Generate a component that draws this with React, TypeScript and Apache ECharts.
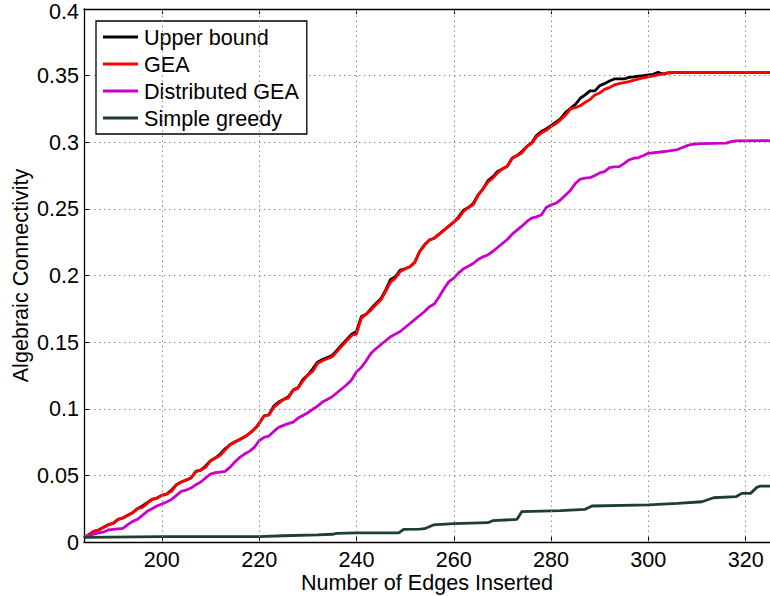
import React, { useEffect, useRef } from "react";
import * as echarts from "echarts";

const xTicks = [200, 220, 240, 260, 280, 300, 320];

const geaX = [184, 186, 187, 189, 190, 191, 192, 193, 194, 195, 196, 198, 199, 200, 201, 202, 203, 204, 206, 207, 208, 209, 210, 211, 212, 213, 214, 215, 216, 217.5, 218.5, 219.5, 221, 222, 223, 224, 225, 226, 227, 228, 229, 230, 231, 232, 233, 235, 236, 237, 238, 239, 240, 241, 242, 243, 244, 245, 246, 247, 248, 249, 250, 251, 252, 253, 254, 255, 256, 257, 258, 259, 260, 261, 262, 263, 264, 265, 266, 267, 268, 269, 270, 271, 272, 273, 274, 275, 276, 277, 278, 279, 280, 281, 282, 283, 284, 285, 286, 287, 288, 289, 290, 291, 292, 293, 294, 296, 298, 300, 302, 304, 307, 325];
const geaY = [0.003, 0.008, 0.009, 0.013, 0.014, 0.017, 0.018, 0.02, 0.022, 0.025, 0.026, 0.032, 0.033, 0.035, 0.036, 0.038, 0.043, 0.045, 0.048, 0.053, 0.054, 0.056, 0.061, 0.063, 0.065, 0.069, 0.073, 0.075, 0.077, 0.08, 0.083, 0.0865, 0.0946, 0.0953, 0.101, 0.104, 0.107, 0.108, 0.114, 0.1153, 0.121, 0.1253, 0.128, 0.134, 0.136, 0.139, 0.143, 0.147, 0.151, 0.155, 0.156, 0.168, 0.171, 0.174, 0.178, 0.1816, 0.188, 0.195, 0.198, 0.203, 0.205, 0.2066, 0.21, 0.218, 0.223, 0.2266, 0.228, 0.231, 0.234, 0.237, 0.24, 0.243, 0.248, 0.251, 0.253, 0.2604, 0.2647, 0.27, 0.273, 0.277, 0.28, 0.282, 0.288, 0.29, 0.292, 0.2967, 0.2992, 0.304, 0.307, 0.309, 0.3117, 0.314, 0.317, 0.3204, 0.325, 0.326, 0.3274, 0.33, 0.332, 0.3355, 0.337, 0.3397, 0.341, 0.343, 0.344, 0.3455, 0.3475, 0.349, 0.3505, 0.352, 0.3525, 0.3525];

const upperX = [184, 186, 187, 189, 190, 191, 192, 193, 194, 195, 196, 198, 199, 200, 201, 202, 203, 204, 206, 207, 208, 209, 210, 211, 212, 213, 214, 215, 216, 217.5, 218.5, 219.5, 221, 222, 223, 224, 225, 226, 227, 228, 229, 230, 231, 232, 233, 235, 236, 237, 238, 239, 240, 241, 242, 243, 244, 245, 246, 247, 248, 249, 250, 251, 252, 253, 254, 255, 256, 257, 258, 259, 260, 261, 262, 263, 264, 265, 266, 267, 268, 269, 270, 271, 272, 273, 274, 275, 276, 277, 278, 279, 280, 281, 282, 283, 284, 285, 286, 287, 288, 289, 290, 291, 292, 293, 294, 295, 296, 297, 298, 299, 300, 301, 302, 303, 304, 307, 325];
const upperY = [0.003, 0.008, 0.009, 0.013, 0.014, 0.017, 0.018, 0.02, 0.022, 0.025, 0.027, 0.032, 0.033, 0.035, 0.036, 0.039, 0.043, 0.045, 0.048, 0.053, 0.054, 0.057, 0.061, 0.063, 0.066, 0.07, 0.073, 0.075, 0.077, 0.08, 0.083, 0.0865, 0.0946, 0.0955, 0.102, 0.105, 0.107, 0.109, 0.114, 0.116, 0.122, 0.1253, 0.13, 0.135, 0.137, 0.14, 0.144, 0.148, 0.152, 0.156, 0.158, 0.169, 0.171, 0.175, 0.179, 0.1825, 0.189, 0.197, 0.199, 0.204, 0.205, 0.2066, 0.21, 0.218, 0.223, 0.2266, 0.228, 0.231, 0.234, 0.237, 0.24, 0.244, 0.249, 0.251, 0.254, 0.2604, 0.265, 0.271, 0.274, 0.278, 0.28, 0.282, 0.288, 0.29, 0.293, 0.2967, 0.2995, 0.305, 0.308, 0.31, 0.3125, 0.315, 0.318, 0.3225, 0.3255, 0.3285, 0.333, 0.3355, 0.3385, 0.3385, 0.3425, 0.344, 0.346, 0.3475, 0.3475, 0.3475, 0.3487, 0.349, 0.3497, 0.35, 0.3505, 0.351, 0.3525, 0.3512, 0.352, 0.3525, 0.3525];

const distX = [184, 187, 188, 189, 190, 192, 193, 194, 195, 196, 197, 198, 199, 200, 201, 202, 203, 204, 205, 206, 207, 208, 209, 210, 211, 212, 213, 214, 215, 216, 217, 218, 219, 220, 221, 222, 223, 224, 225, 226, 227, 228, 229, 230, 231, 232, 233, 234, 235, 236, 237, 238, 239, 240, 241, 242, 243, 244, 245, 246, 247, 248, 249, 250, 251, 252, 253, 254, 255, 256, 257, 258, 259, 260, 261, 262, 263, 264, 265, 266, 267, 268, 269, 270, 271, 272, 273, 274, 275, 276, 277, 278, 279, 280, 281, 282, 283, 284, 285, 286, 287, 288, 289, 290, 291, 292, 293, 294, 295, 296, 297, 298, 299, 300, 302, 304, 306, 307, 308, 309, 311, 316, 317, 318, 325];
const distY = [0.004, 0.0068, 0.0075, 0.009, 0.0095, 0.0103, 0.013, 0.0155, 0.017, 0.02, 0.023, 0.025, 0.027, 0.0285, 0.03, 0.032, 0.035, 0.038, 0.039, 0.0405, 0.043, 0.045, 0.048, 0.051, 0.052, 0.0525, 0.053, 0.056, 0.06, 0.0635, 0.066, 0.068, 0.071, 0.076, 0.0785, 0.0795, 0.083, 0.086, 0.0875, 0.0888, 0.09, 0.093, 0.095, 0.097, 0.0996, 0.102, 0.105, 0.107, 0.109, 0.112, 0.115, 0.118, 0.1216, 0.1278, 0.131, 0.136, 0.1416, 0.145, 0.148, 0.151, 0.154, 0.156, 0.158, 0.161, 0.164, 0.167, 0.17, 0.173, 0.1766, 0.1786, 0.184, 0.19, 0.1954, 0.198, 0.202, 0.205, 0.207, 0.209, 0.212, 0.214, 0.2154, 0.218, 0.221, 0.224, 0.227, 0.231, 0.234, 0.237, 0.2404, 0.243, 0.244, 0.2454, 0.251, 0.253, 0.2542, 0.257, 0.2604, 0.264, 0.269, 0.2724, 0.273, 0.2734, 0.275, 0.277, 0.278, 0.281, 0.2815, 0.2817, 0.284, 0.2867, 0.288, 0.2885, 0.29, 0.2917, 0.2925, 0.2934, 0.2945, 0.296, 0.2975, 0.2985, 0.299, 0.2994, 0.3005, 0.301, 0.3012];

const greedyX = [184, 200, 220, 225, 232, 235, 236, 240, 248.7, 249.7, 253, 254, 255.8, 260, 267, 268, 273, 274, 282, 287, 288.4, 300, 306, 311, 313.4, 318, 319.2, 321, 322.3, 323, 325];
const greedyY = [0.0035, 0.004, 0.004, 0.0047, 0.0053, 0.0058, 0.0065, 0.0068, 0.0068, 0.0095, 0.0097, 0.01, 0.0128, 0.0138, 0.0145, 0.016, 0.017, 0.0228, 0.0235, 0.0245, 0.027, 0.0278, 0.029, 0.0302, 0.0332, 0.034, 0.0365, 0.0365, 0.041, 0.042, 0.042];

const seriesNames = ["Upper bound", "GEA", "Distributed GEA", "Simple greedy"];
const seriesColors = ["#000000", "#ff0000", "#c800c8", "#1d3f2e"];

export default function App() {
  const ref = useRef<HTMLDivElement>(null);
  useEffect(() => {
    const chart = echarts.init(ref.current!, null, { renderer: "svg" });
    const font = "'Liberation Sans', Arial, Helvetica, sans-serif";
    const fs = 21.6;
    const zip = (xs: number[], ys: number[]) => xs.map((x, i) => [x, ys[i]]);
    const allData = [zip(upperX, upperY), zip(geaX, geaY), zip(distX, distY), zip(greedyX, greedyY)];
    const grid = { type: [1.5, 3.5] as any, color: "#8a8a8a", width: 1 };
    const lineSeries = seriesNames.map((name, i) => ({
      name,
      type: "line",
      data: allData[i],
      symbol: "none",
      showSymbol: false,
      clip: true,
      z: 3,
      lineStyle: { color: seriesColors[i], width: 2.8 },
      itemStyle: { color: seriesColors[i] },
    }));
    chart.setOption({
      animation: false,
      backgroundColor: "#ffffff",
      textStyle: { fontFamily: font },
      grid: { left: 84, right: 0, top: 9, bottom: 54, containLabel: false, outerBoundsMode: "none" },
      xAxis: [
        {
          type: "value",
          min: 184,
          max: 325,
          position: "bottom",
          name: "Number of Edges Inserted",
          nameLocation: "middle",
          nameGap: 31,
          nameMoveOverlap: false,
          nameTextStyle: { fontSize: fs, lineHeight: 18, color: "#000", fontFamily: font },
          axisLine: { show: true, onZero: false, lineStyle: { color: "#000", width: 1.3 } },
          axisTick: { show: true, inside: true, length: 5, customValues: xTicks, lineStyle: { color: "#000", width: 1 } },
          axisLabel: { customValues: xTicks, fontSize: fs, lineHeight: 18, color: "#000", margin: 8, fontFamily: font },
          splitLine: { show: false },
        },
        {
          type: "value",
          min: 184,
          max: 325,
          position: "top",
          axisLine: { show: true, onZero: false, lineStyle: { color: "#000", width: 1.3 } },
          axisTick: { show: true, inside: true, length: 5, customValues: xTicks, lineStyle: { color: "#000", width: 1 } },
          axisLabel: { show: false, customValues: xTicks },
          splitLine: { show: false },
        },
      ],
      yAxis: [
        {
          type: "value",
          min: 0,
          max: 0.4,
          interval: 0.05,
          name: "Algebraic Connectivity",
          nameLocation: "middle",
          nameGap: 53,
          nameMoveOverlap: false,
          nameTextStyle: { fontSize: fs, color: "#000", fontFamily: font },
          axisLine: { show: true, onZero: false, lineStyle: { color: "#000", width: 1.3 } },
          axisTick: { show: true, inside: true, length: 5, lineStyle: { color: "#000", width: 1 } },
          axisLabel: {
            fontSize: fs,
            color: "#000",
            margin: 5,
            fontFamily: font,
            formatter: (v: number) => (v >= 0.4 ? "{top|" + v + "}" : String(v)),
            rich: { top: { fontSize: fs, color: "#000", fontFamily: font, padding: [4, 0, 0, 0] } },
          },
          splitLine: { show: true, lineStyle: grid },
        },
      ],
      legend: {
        orient: "vertical",
        left: 96,
        top: 21,
        padding: [5, 8, 5, 7],
        itemGap: 5,
        itemWidth: 35,
        itemHeight: 2.8,
        icon: "rect",
        borderColor: "#000",
        borderWidth: 1.3,
        borderRadius: 0,
        backgroundColor: "#fff",
        data: seriesNames,
        textStyle: { fontSize: fs, color: "#000", fontFamily: font, padding: [0, 0, 0, 1] },
      },
      series: [
        {
          name: "grid-x",
          type: "line",
          data: [],
          z: 1,
          silent: true,
          markLine: {
            silent: true,
            symbol: "none",
            label: { show: false },
            lineStyle: grid,
            data: xTicks.map((v) => ({ xAxis: v })),
          },
        },
        ...lineSeries,
      ],
    });
    return () => chart.dispose();
  }, []);
  return <div ref={ref} style={{ position: "fixed", left: 0, top: 0, width: 770, height: 596 }} />;
}
